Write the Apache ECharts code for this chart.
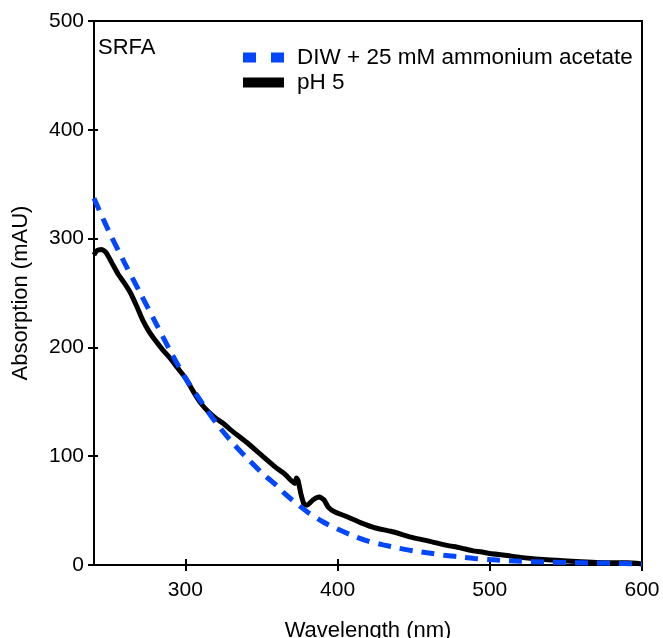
<!DOCTYPE html>
<html>
<head>
<meta charset="utf-8">
<script src="https://cdn.jsdelivr.net/npm/echarts@6/dist/echarts.min.js"></script>
<style>
html,body{margin:0;padding:0;background:#fff;}
#chart{width:663px;height:638px;}
</style>
</head>
<body>
<div id="chart"></div>
<script>
const xTicks = [300, 400, 500, 600];
const seriesNames = ['DIW + 25 mM ammonium acetate', 'pH 5'];
const blueX = [240,250,260,270,280,290,300,310,320,330,340,350,360,365,370,380,390,400,410,420,430,440,450,460,470,480,490,500,520,540,560,580,600];
const blueY = [337,306,278,251,224,197,172,151,131,114,99,85,73,66,60,49,40,33,27,22,18.5,15.5,13,11,9,7.5,6,5,3.5,2.5,2,1.5,1];
const blackX = [240,242,245,248,252,256,260,264,268,272,276,280,285,290,295,300,305,310,315,320,325,330,340,350,360,365,370,372,373,374,376,378,380,384,388,391,394,398,405,415,425,435,450,460,472,480,489,495,500,510,520,540,560,580,590,600];
const blackY = [285,289,290,287,277,267,259,250,238,225,215,207,198,190,181,172,160,149,141,135,130,124,113,101,89,84,77,75,80,78,65,56,55,60,62.5,60,53,49,45,39,34,31,25,22,18,16,13,12,10.5,9,7,4.5,3,2,2,1];

const pairs = (xs, ys) => xs.map((x, i) => [x, ys[i]]);
const FONT = '"Liberation Sans", Arial, sans-serif';
const chart = echarts.init(document.getElementById('chart'));
const tickLine = {color: '#000', width: 2};
chart.setOption({
  animation: false,
  backgroundColor: '#fff',
  textStyle: {fontFamily: FONT},
  grid: {left: 94, right: 21, top: 21, bottom: 73, show: true, borderColor: '#000', borderWidth: 2, containLabel: false, outerBoundsMode: 'none'},
  legend: {
    orient: 'vertical', left: 238, top: 41, itemWidth: 41, itemHeight: 10, itemGap: 2,
    textStyle: {fontSize: 22.5, color: '#000', fontFamily: FONT, padding: [0, 0, 0, 8], lineHeight: 21},
    data: [
      {name: seriesNames[0], icon: 'path://M0,0h13v10h-13z M28,0h13v10h-13z'},
      {name: seriesNames[1], icon: 'rect'}
    ]
  },
  xAxis: [{
    type: 'value', min: 240, max: 600, position: 'bottom',
    name: 'Wavelength (nm)', nameLocation: 'middle', nameGap: 55,
    nameTextStyle: {fontSize: 22, color: '#000', fontFamily: FONT},
    axisLine: {lineStyle: {color: '#000', width: 2}},
    axisTick: {show: true, length: 6, lineStyle: tickLine, customValues: xTicks},
    axisLabel: {fontSize: 21, color: '#000', margin: 15, customValues: xTicks, fontFamily: FONT},
    splitLine: {show: false}
  }, {
    type: 'value', min: 240, max: 600, position: 'bottom',
    axisLine: {show: false},
    axisTick: {show: true, inside: true, length: 6, lineStyle: tickLine, customValues: xTicks},
    axisLabel: {show: false},
    splitLine: {show: false}
  }],
  yAxis: [{
    type: 'value', min: 0, max: 500, interval: 100, position: 'left',
    name: 'Absorption (mAU)', nameLocation: 'middle', nameGap: 62,
    nameTextStyle: {fontSize: 22, color: '#000', fontFamily: FONT},
    axisLine: {show: true, lineStyle: {color: '#000', width: 2}},
    axisTick: {show: true, length: 6, lineStyle: tickLine},
    axisLabel: {fontSize: 21, color: '#000', margin: 10, fontFamily: FONT},
    splitLine: {show: false}
  }, {
    type: 'value', min: 0, max: 500, interval: 100, position: 'left',
    axisLine: {show: false},
    axisTick: {show: true, inside: true, length: 4, lineStyle: tickLine},
    axisLabel: {show: false},
    splitLine: {show: false}
  }],
  graphic: [{
    type: 'text', left: 98, top: 37,
    style: {text: 'SRFA', fontSize: 22, fill: '#000', fontFamily: FONT}
  }],
  series: [{
    name: seriesNames[0], type: 'line', symbol: 'none', smooth: 0.3,
    data: pairs(blueX, blueY), color: '#0047ff',
    lineStyle: {color: '#0047ff', width: 5, type: [13, 9]}, z: 3
  }, {
    name: seriesNames[1], type: 'line', symbol: 'none', smooth: 0.2,
    data: pairs(blackX, blackY), color: '#000',
    lineStyle: {color: '#000', width: 5}, z: 2
  }]
});
</script>
</body>
</html>
